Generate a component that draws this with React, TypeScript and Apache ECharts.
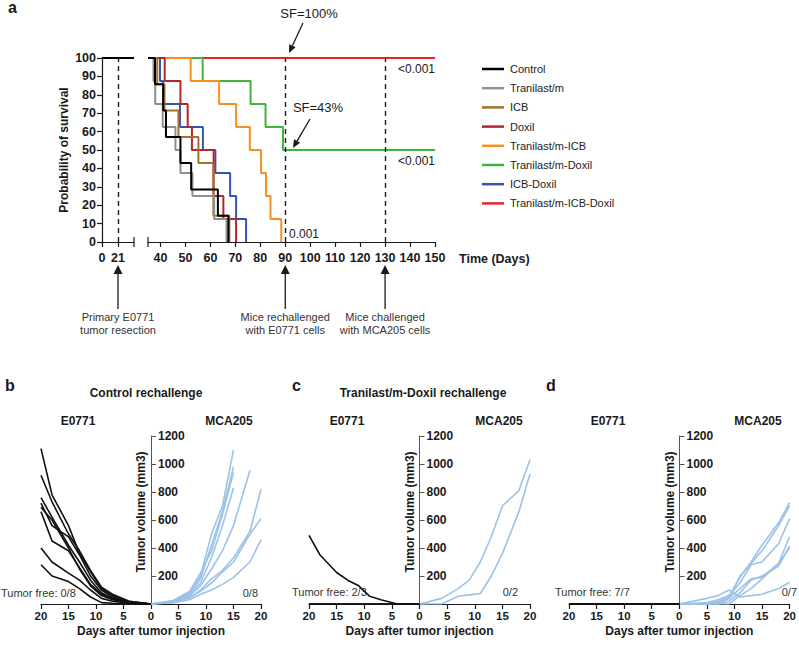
import React, { useEffect, useRef } from 'react';
import * as echarts from 'echarts';

const FONT = '"Liberation Sans", Arial, Helvetica, sans-serif';
const INK = '#1a1a1a';

// ---------- Panel a : Kaplan-Meier data ----------
const groups = ['Control', 'Tranilast/m', 'ICB', 'Doxil', 'Tranilast/m-ICB', 'Tranilast/m-Doxil', 'ICB-Doxil', 'Tranilast/m-ICB-Doxil'];
const groupColors = ['#000000', '#8f8f8f', '#a5702b', '#b3262b', '#f7901e', '#3db53d', '#3553b3', '#e8262a'];
const preSurvival = [[0, 100], [42, 100]];
const kmControl = [[35, 100], [37.8, 85.7], [41.1, 71.4], [42.2, 57.1], [48.0, 42.9], [52.3, 28.6], [63.0, 14.3], [67.2, 0]];
const kmTranilast = [[35, 100], [37.2, 87.5], [37.9, 75], [40.9, 62.5], [46.0, 50], [48.0, 37.5], [52.8, 25], [61.5, 12.5], [66.5, 0]];
const kmICB = [[35, 100], [38.7, 85.7], [41.6, 71.4], [47.2, 57.1], [55.2, 42.9], [61.2, 14.3], [67.6, 0]];
const kmDoxil = [[35, 100], [41.7, 87.5], [48.0, 75], [50.9, 62.5], [52.6, 50], [61.3, 25], [65.2, 12.5], [70.3, 0]];
const kmTraICB = [[35, 100], [52.1, 87.5], [63.5, 75], [70.3, 62.5], [75.8, 50], [80.3, 37.5], [82.3, 25], [84.1, 12.5], [88.4, 0]];
const kmTraDoxil = [[35, 100], [56.9, 87.5], [76.1, 75], [82.1, 62.5], [89.1, 50], [150, 50]];
const kmICBDoxil = [[35, 100], [39.8, 87.5], [41.1, 75], [47.8, 62.5], [57.0, 50], [62.0, 37.5], [67.9, 25], [70.3, 12.5], [74.3, 0]];
const kmTriple = [[35, 100], [150, 100]];
const kmAll = [kmControl, kmTranilast, kmICB, kmDoxil, kmTraICB, kmTraDoxil, kmICBDoxil, kmTriple];

const xTicksA1 = [0, 21];
const xTicksA2 = [40, 50, 60, 70, 80, 90, 100, 110, 120, 130, 140, 150];
const eventDays = [21, 90, 130];
const eventLabels = [['Primary E0771', 'tumor resection'], ['Mice rechallenged', 'with E0771 cells'], ['Mice challenged', 'with MCA205 cells']];
const pValues = ['<0.001', '<0.001', '0.001'];

// ---------- Panels b-d : tumour growth ----------
const daysE = [20, 18, 15, 13, 11, 9, 7, 4, 0];
const daysM = [0, 4, 7, 9, 11, 13, 15, 18, 20];
const daysMd = [0, 5, 7, 9, 11, 13, 15, 18, 20];

const bE0771 = [
  [1110, 780, 560, 360, 230, 110, 60, 20, 0],
  [920, 730, 500, 380, 240, 120, 70, 20, 0],
  [760, 620, 420, 300, 170, 80, 40, 10, 0],
  [720, 560, 480, 350, 200, 100, 50, 15, 0],
  [690, 600, 400, 250, 130, 60, 30, 8, 0],
  [660, 450, 380, 260, 140, 70, 40, 10, 0],
  [400, 300, 220, 170, 100, 40, 20, 5, 0],
  [280, 200, 160, 110, 50, 10, 5, 0, 0],
];
const bMCA205 = [
  [0, 20, 80, 200, 500, 700, 1100],
  [0, 15, 70, 180, 420, 660, 980],
  [0, 25, 90, 220, 380, 640, 940],
  [0, 15, 60, 150, 330, 560, 830],
  [0, 20, 60, 130, 250, 380, 560, 955],
  [0, 10, 40, 100, 180, 240, 330, 520, 820],
  [0, 20, 50, 90, 150, 230, 300, 500, 610],
  [0, 10, 30, 70, 100, 140, 190, 300, 460],
];
const cE0771 = [
  [490, 350, 225, 170, 130, 55, 30, 0, 0],
  [0, 0, 0, 0, 0, 0, 0, 0, 0],
  [0, 0, 0, 0, 0, 0, 0, 0, 0],
];
const cMCA205 = [
  [0, 40, 110, 170, 300, 480, 700, 810, 1030],
  [0, 0, 55, 65, 75, 200, 360, 660, 930],
];
const dE0771 = Array.from({ length: 7 }, () => [0, 0, 0, 0, 0, 0, 0, 0, 0]);
const dMCA205 = [
  [0, 0, 20, 50, 190, 300, 420, 580, 725],
  [0, 0, 0, 40, 200, 290, 380, 560, 700],
  [0, 10, 30, 60, 150, 280, 300, 430, 610],
  [0, 0, 10, 40, 110, 180, 190, 290, 480],
  [0, 0, 0, 20, 80, 170, 200, 270, 415],
  [0, 0, 0, 0, 60, 110, 180, 290, 400],
  [0, 40, 60, 100, 50, 60, 70, 110, 155],
];
const panels = [
  { key: 'b', title: 'Control rechallenge', E: bE0771, M: bMCA205, dM: daysM, free: 'Tumor free: 0/8', frac: '0/8' },
  { key: 'c', title: 'Tranilast/m-Doxil rechallenge', E: cE0771, M: cMCA205, dM: daysM, free: 'Tumor free: 2/3', frac: '0/2' },
  { key: 'd', title: '', E: dE0771, M: dMCA205, dM: daysMd, free: 'Tumor free: 7/7', frac: '0/7' },
];

// ---------- layout ----------
const A1 = { left: 102, top: 58, width: 32, height: 184, min: 0, max: 42 };
const A2 = { left: 148, top: 58, width: 287, height: 184, min: 35, max: 150 };
const PG = [
  { left: 41, top: 436, width: 220, height: 168 },
  { left: 309, top: 436, width: 221, height: 168 },
  { left: 569, top: 436, width: 221, height: 168 },
];
const panelText = [
  { letter: [5, 385], title: [146, 393], e: [78, 421], m: [229, 421], free: [1, 593], frac: [258, 593] },
  { letter: [292, 385], title: [423, 393], e: [347, 421], m: [499, 421], free: [292, 592], frac: [518, 592] },
  { letter: [546, 385], title: [672, 393], e: [608, 421], m: [758, 421], free: [555, 592], frac: [797, 592] },
];

function xPix(d: number) {
  const g = d <= A1.max ? A1 : A2;
  return g.left + ((d - g.min) / (g.max - g.min)) * g.width;
}

function txt(text: string, x: number, y: number, size: number, bold = false, align = 'center', color = INK) {
  return {
    type: 'text',
    x, y,
    silent: true,
    style: {
      text, fill: color,
      font: `${bold ? 'bold ' : ''}${size}px ${FONT}`,
      align, verticalAlign: 'middle',
      textAlign: align, textVerticalAlign: 'middle',
    },
  };
}

function arrow(x1: number, y1: number, x2: number, y2: number, head = 8, half = 3.5) {
  const dx = x2 - x1, dy = y2 - y1;
  const L = Math.hypot(dx, dy);
  const ux = dx / L, uy = dy / L;
  const bx = x2 - ux * head, by = y2 - uy * head;
  const px = -uy, py = ux;
  return [
    { type: 'line', silent: true, shape: { x1, y1, x2: bx, y2: by }, style: { stroke: INK, lineWidth: 1.3 } },
    { type: 'polygon', silent: true, shape: { points: [[x2, y2], [bx + px * half, by + py * half], [bx - px * half, by - py * half]] }, style: { fill: INK } },
  ];
}

export default function App() {
  const ref = useRef<HTMLDivElement>(null);

  useEffect(() => {
    if (!ref.current) return;
    const chart = echarts.init(ref.current, undefined, { renderer: 'svg' });

    const boldLab = { fontWeight: 'bold', color: INK, fontFamily: FONT };
    const grid: any[] = [
      { left: A1.left, top: A1.top, width: A1.width, height: A1.height },
      { left: A2.left, top: A2.top, width: A2.width, height: A2.height },
      ...PG.map(g => ({ ...g })),
    ];

    const xAxis: any[] = [
      {
        type: 'value', gridIndex: 0, min: A1.min, max: A1.max,
        axisLine: { lineStyle: { color: INK, width: 1.2 } },
        axisTick: { length: 5, customValues: xTicksA1, lineStyle: { color: INK, width: 1.2 } },
        axisLabel: { ...boldLab, fontSize: 12.5, margin: 9, customValues: xTicksA1 },
        splitLine: { show: false },
      },
      {
        type: 'value', gridIndex: 1, min: A2.min, max: A2.max,
        axisLine: { lineStyle: { color: INK, width: 1.2 } },
        axisTick: { length: 5, customValues: xTicksA2, lineStyle: { color: INK, width: 1.2 } },
        axisLabel: { ...boldLab, fontSize: 12.5, margin: 9, customValues: xTicksA2 },
        splitLine: { show: false },
      },
    ];
    const yAxis: any[] = [
      {
        type: 'value', gridIndex: 0, min: 0, max: 100, interval: 10,
        axisLine: { show: true, lineStyle: { color: INK, width: 1.2 } },
        axisTick: { show: true, length: 5, lineStyle: { color: INK, width: 1.2 } },
        axisLabel: { ...boldLab, fontSize: 12.5, margin: 6 },
        splitLine: { show: false },
        name: 'Probability of survival', nameLocation: 'middle', nameGap: 32,
        nameTextStyle: { ...boldLab, fontSize: 12 },
      },
      { type: 'value', gridIndex: 1, min: 0, max: 100, show: false, splitLine: { show: false } },
    ];
    PG.forEach((g, k) => {
      xAxis.push({
        type: 'value', gridIndex: k + 2, min: -20, max: 20, interval: 5,
        axisLine: { lineStyle: { color: INK, width: 1.2 } },
        axisTick: { length: 5, lineStyle: { color: INK, width: 1.2 } },
        axisLabel: { ...boldLab, fontSize: 11.5, margin: 6, formatter: (v: number) => String(Math.abs(v)) },
        splitLine: { show: false },
        name: 'Days after tumor injection', nameLocation: 'middle', nameGap: 21,
        nameTextStyle: { ...boldLab, fontSize: 12 },
      });
      yAxis.push({
        type: 'value', gridIndex: k + 2, min: 0, max: 1200, interval: 200,
        position: 'left', offset: -g.width / 2,
        axisLine: { show: true, onZero: false, lineStyle: { color: '#555', width: 1 } },
        axisTick: { show: true, inside: true, length: 5, lineStyle: { color: '#555' } },
        axisLabel: { ...boldLab, fontSize: 12, inside: true, margin: 7, formatter: (v: number) => (v === 0 ? '' : String(v)) },
        splitLine: { show: false },
        name: 'Tumor volume (mm3)', nameLocation: 'middle', nameGap: 4,
        nameTextStyle: { ...boldLab, fontSize: 12, padding: [0, 0, 0, 16] },
      });
    });

    const series: any[] = [];
    const dashed = { type: [5, 4], color: INK, width: 1.4 };
    for (let i = groups.length - 1; i >= 0; i--) {
      series.push({
        type: 'line', name: groups[i], xAxisIndex: 0, yAxisIndex: 0, data: preSurvival,
        color: groupColors[i], symbol: 'none', lineStyle: { width: 2 }, silent: true,
        markLine: i === 0 ? { silent: true, symbol: ['none', 'none'], label: { show: false }, lineStyle: dashed, data: [{ xAxis: eventDays[0] }] } : undefined,
      });
    }
    for (let i = groups.length - 1; i >= 0; i--) {
      series.push({
        type: 'line', name: groups[i], xAxisIndex: 1, yAxisIndex: 1, data: kmAll[i], step: 'end',
        color: groupColors[i], symbol: 'none', lineStyle: { width: 2 }, silent: true,
        markLine: i === 0 ? { silent: true, symbol: ['none', 'none'], label: { show: false }, lineStyle: dashed, data: [{ xAxis: eventDays[1] }, { xAxis: eventDays[2] }] } : undefined,
      });
    }
    panels.forEach((p, k) => {
      p.M.forEach(vals => {
        series.push({
          type: 'line', xAxisIndex: k + 2, yAxisIndex: k + 2,
          data: vals.map((v, j) => [p.dM[j], v]),
          color: '#9cc2e8', symbol: 'none', lineStyle: { width: 1.6 }, silent: true,
        });
      });
      p.E.forEach(vals => {
        series.push({
          type: 'line', xAxisIndex: k + 2, yAxisIndex: k + 2,
          data: vals.map((v, j) => [-daysE[j], v]),
          color: '#111111', symbol: 'none', lineStyle: { width: 1.6 }, silent: true,
        });
      });
    });

    const graphic: any[] = [];
    graphic.push(txt('a', 8, 7, 16, true, 'left'));
    graphic.push(txt('SF=100%', 309, 13, 13));
    graphic.push(...arrow(303, 23, 289, 53));
    graphic.push(txt('SF=43%', 318, 107, 13));
    graphic.push(...arrow(310, 119, 293, 148));
    graphic.push(txt(pValues[0], 435, 69, 12, false, 'right'));
    graphic.push(txt(pValues[1], 435, 161, 12, false, 'right'));
    graphic.push(txt(pValues[2], 289, 234, 12, false, 'left'));
    graphic.push(txt('Time (Days)', 459, 259, 12.5, true, 'left'));
    [A1.left + A1.width, A2.left].forEach(x => {
      graphic.push({ type: 'line', silent: true, shape: { x1: x, y1: 237, x2: x, y2: 247 }, style: { stroke: INK, lineWidth: 1.2 } });
    });
    eventDays.forEach((d, i) => {
      const x = xPix(d);
      graphic.push(...arrow(x, 309, x, 265, 9, 4.5));
      graphic.push(txt(eventLabels[i][0], x, 317, 11, false, 'center', '#333'));
      graphic.push(txt(eventLabels[i][1], x, 330, 11, false, 'center', '#333'));
    });
    panels.forEach((p, k) => {
      const t = panelText[k];
      graphic.push(txt(p.key, t.letter[0], t.letter[1], 16, true, 'left'));
      if (p.title) graphic.push(txt(p.title, t.title[0], t.title[1], 12, true));
      graphic.push(txt('E0771', t.e[0], t.e[1], 12, true));
      graphic.push(txt('MCA205', t.m[0], t.m[1], 12, true));
      graphic.push(txt(p.free, t.free[0], t.free[1], 11, false, 'left', '#333'));
      graphic.push(txt(p.frac, t.frac[0], t.frac[1], 11, false, 'right', '#333'));
    });

    chart.setOption({
      animation: false,
      backgroundColor: '#ffffff',
      textStyle: { fontFamily: FONT },
      grid,
      xAxis,
      yAxis,
      legend: {
        data: groups, orient: 'vertical', left: 477, top: 57, icon: 'rect',
        itemWidth: 22, itemHeight: 2.5, itemGap: 5.2, selectedMode: false,
        textStyle: { fontSize: 11, color: '#222', fontFamily: FONT, lineHeight: 14, padding: [0, 0, 0, 1] },
      },
      series,
      graphic,
    });
    return () => chart.dispose();
  }, []);

  return <div ref={ref} style={{ position: 'absolute', left: 0, top: 0, width: 799, height: 646 }} />;
}
